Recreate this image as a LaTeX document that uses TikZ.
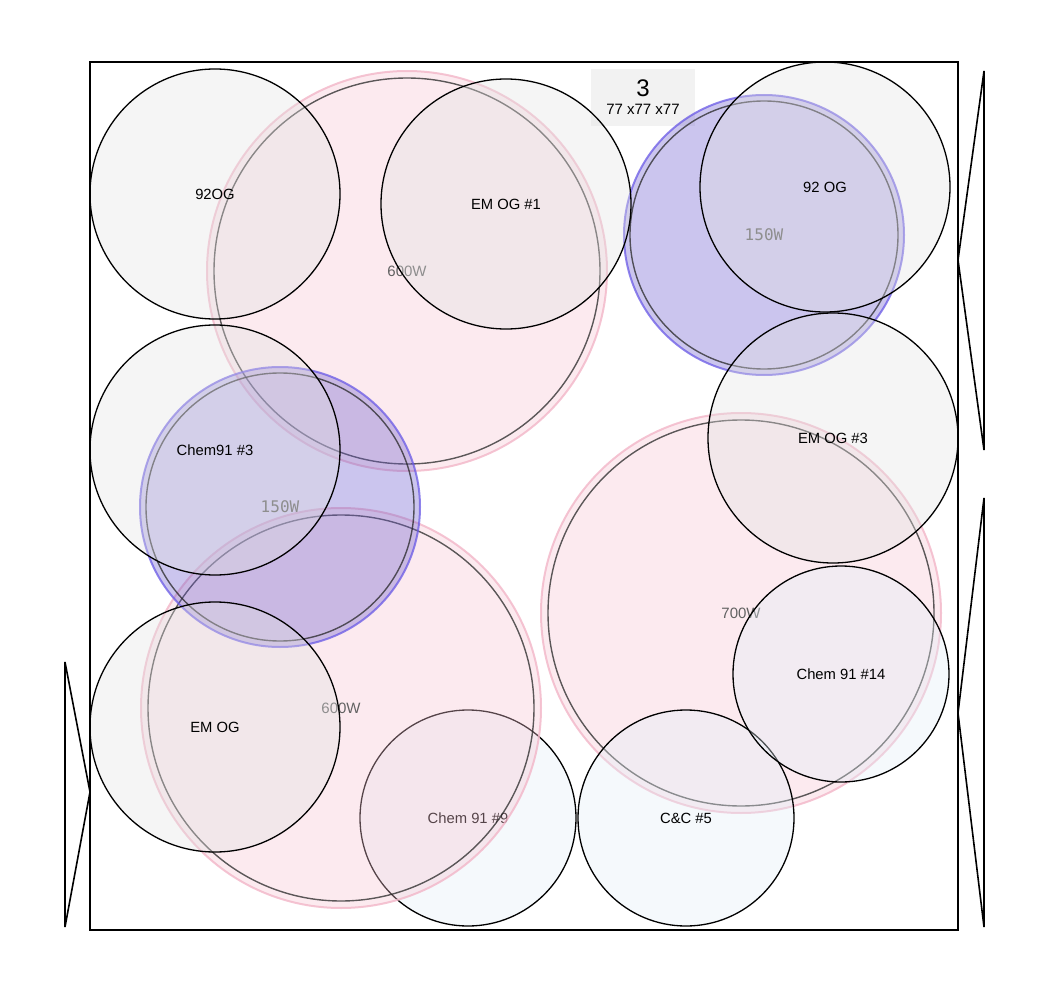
\documentclass[tikz,border=0pt]{standalone}
\usepackage{fontspec}
\setmainfont{Liberation Sans}
\newfontfamily\lampmono{DejaVu Sans Mono}
\definecolor{plantgray}{HTML}{E2E2E2}
\definecolor{plantblue}{HTML}{E2EEF7}
\definecolor{lamppink}{HTML}{F6C4D2}
\definecolor{lamppinkedge}{HTML}{F2B6C8}
\definecolor{lampblue}{HTML}{6A5ACD}
\definecolor{lampblueedge}{HTML}{6A5AE6}
\definecolor{boxgray}{HTML}{F2F2F2}
\begin{document}
\begin{tikzpicture}[x=1pt,y=-1pt,
  plant/.style={circle, draw=black, line width=1.3pt, fill=plantgray, fill opacity=0.35,
    text opacity=1, minimum size=250pt, inner sep=0pt, font=\fontsize{14.8}{16}\selectfont},
  smallplant/.style={plant, fill=plantblue, fill opacity=0.35, minimum size=216pt},
  bigpink/.style={circle, draw=lamppinkedge, draw opacity=0.8, line width=2pt, fill=lamppink,
    fill opacity=0.35, text opacity=1, text=black!62, minimum size=400pt, inner sep=0pt,
    font=\fontsize{15}{16}\selectfont},
  bigblue/.style={circle, draw=lampblueedge, draw opacity=0.75, line width=2pt, fill=lampblue,
    fill opacity=0.35, text opacity=1, text=black!62, minimum size=280pt, inner sep=0pt,
    font=\fontsize{16}{17}\lampmono},
  innerring/.style={circle, draw=black!85, draw opacity=0.75, line width=1.4pt, inner sep=0pt},
  tri/.style={draw=black, line width=1.6pt, line join=miter},
]
\useasboundingbox (0,0) rectangle (1050,995);

% size label
\node[fill=boxgray, minimum width=104pt, minimum height=57pt, inner sep=0pt] (sizebox) at (643,97.5) {};
\node[font=\fontsize{24}{26}\selectfont] (tnum) at (643,88) {3};
\node[font=\fontsize{15}{16}\selectfont] (tdim) at (643,109) {77 x77 x77};

% plant under lamp
\node[smallplant] (chemnine) at (468,818) {Chem 91 \#9};

% lamps
\node[bigpink] (lampA) at (407,271) {600W};
\node[innerring, minimum size=386pt] (lampAi) at (lampA) {};
\node[bigpink] (lampD) at (341,708) {600W};
\node[innerring, minimum size=386pt] (lampDi) at (lampD) {};
\node[bigpink] (lampE) at (741,613) {700W};
\node[innerring, minimum size=386pt] (lampEi) at (lampE) {};
\node[bigblue] (lampB) at (764,235) {150W};
\node[innerring, minimum size=268pt] (lampBi) at (lampB) {};
\node[bigblue] (lampC) at (280,507) {150W};
\node[innerring, minimum size=268pt] (lampCi) at (lampC) {};

% plants
\node[plant] (p92og) at (215,194) {92OG};
\node[plant] (emog1) at (506,204) {EM OG \#1};
\node[plant] (og92) at (825,187) {92 OG};
\node[plant] (chem3) at (215,450) {Chem91 \#3};
\node[plant] (emog3) at (833,438) {EM OG \#3};
\node[plant] (emog) at (215,727) {EM OG};
\node[smallplant] (cc5) at (686,818) {C\&C \#5};
\node[smallplant] (chem14) at (841,674) {Chem 91 \#14};

% frame
\draw[line width=1.5pt] (90,62) rectangle (958,930);

% triangles
\coordinate (rtA) at (984,71);
\coordinate (rtB) at (984,450);
\coordinate (rtC) at (958,260);
\draw[tri] (rtA) -- (rtB) -- (rtC) -- cycle;
\coordinate (rbA) at (984,498);
\coordinate (rbB) at (984,927);
\coordinate (rbC) at (958,713);
\draw[tri] (rbA) -- (rbB) -- (rbC) -- cycle;
\coordinate (lA) at (65,662);
\coordinate (lB) at (65,927);
\coordinate (lC) at (90,792);
\draw[tri] (lA) -- (lB) -- (lC) -- cycle;
\end{tikzpicture}
\end{document}
